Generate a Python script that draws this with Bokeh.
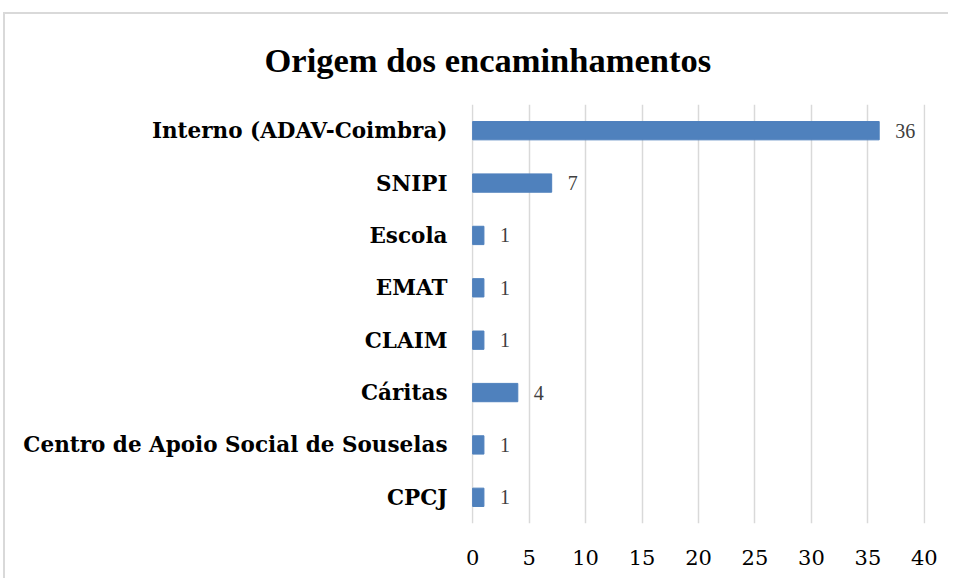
from bokeh.plotting import figure
from bokeh.models import ColumnDataSource, Range1d, FactorRange, FixedTicker, LabelSet
from bokeh.embed import file_html
from bokeh.resources import INLINE

title_text = "Origem dos encaminhamentos"
categories = ["Interno (ADAV-Coimbra)", "SNIPI", "Escola", "EMAT", "CLAIM",
              "Cáritas", "Centro de Apoio Social de Souselas", "CPCJ"]
values = [36, 7, 1, 1, 1, 4, 1, 1]
x_ticks = [0, 5, 10, 15, 20, 25, 30, 35, 40]

src = ColumnDataSource(dict(cat=categories, val=values, lab=[str(v) for v in values]))

p = figure(width=945, height=566, output_backend="svg", toolbar_location=None,
           y_range=FactorRange(*categories[::-1]), x_range=Range1d(-0.1, 40.1),
           min_border_left=466, min_border_right=25, min_border_top=90, min_border_bottom=57)
p.styles = {"margin-left": "3px", "margin-top": "12px",
            "border-top": "2px solid #d9d9d9", "border-left": "2px solid #d9d9d9"}

p.hbar(y="cat", right="val", left=0, height=0.35, source=src, color="#4f81bd")

labels = LabelSet(x="val", y="cat", text="lab", source=src, x_offset=16,
                  text_align="left", text_baseline="middle",
                  text_font="DejaVu Serif", text_font_size="20px", text_color="#404040")
p.add_layout(labels)

p.title.text = title_text
p.title.align = "left"
p.title.vertical_align = "top"
p.title.offset = -207
p.title.standoff = 48
p.title.text_font = "Liberation Serif"
p.title.text_font_size = "34.5px"
p.title.text_font_style = "bold"
p.title.text_color = "#000000"

p.outline_line_color = None
p.ygrid.grid_line_color = None
p.xgrid.grid_line_color = "#d9d9d9"
p.xgrid.grid_line_width = 1.5
p.xaxis.ticker = FixedTicker(ticks=x_ticks)

for ax in (p.xaxis, p.yaxis):
    ax.axis_line_color = None
    ax.major_tick_line_color = None
    ax.minor_tick_line_color = None

p.xaxis.major_label_text_font = "DejaVu Serif"
p.xaxis.major_label_text_font_size = "21px"
p.xaxis.major_label_text_color = "#000000"
p.xaxis.major_label_standoff = 20

p.yaxis.major_label_text_font = "DejaVu Serif"
p.yaxis.major_label_text_font_size = "21.5px"
p.yaxis.major_label_text_font_style = "bold"
p.yaxis.major_label_text_color = "#000000"
p.yaxis.major_label_standoff = 18

open("out.html", "w").write(file_html(p, INLINE))
